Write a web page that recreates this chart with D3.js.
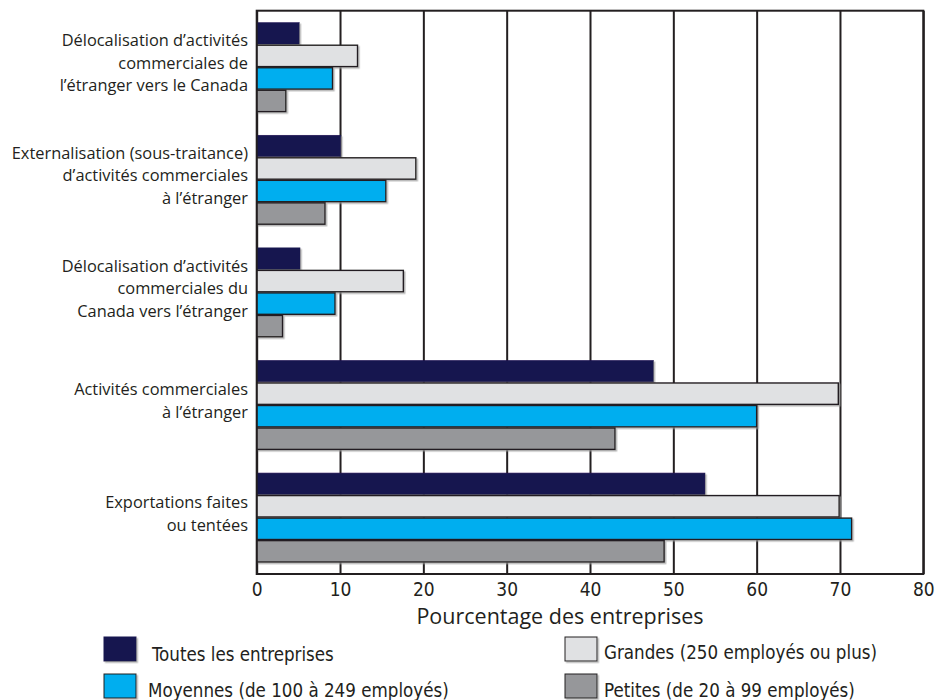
<!DOCTYPE html>
<html>
<head>
<meta charset="utf-8">
<script src="https://cdn.jsdelivr.net/npm/d3@7"></script>
<style>
  html, body { margin: 0; padding: 0; background: #fff; }
  svg { display: block; }
</style>
</head>
<body>
<svg id="chart" width="936" height="700"></svg>
<script>
// ---- Data ----
const categories = [
  "Délocalisation d’activités\ncommerciales de\nl’étranger vers le Canada",
  "Externalisation (sous-traitance)\nd’activités commerciales\nà l’étranger",
  "Délocalisation d’activités\ncommerciales du\nCanada vers l’étranger",
  "Activités commerciales\nà l’étranger",
  "Exportations faites\nou tentées"
];
const seriesNames = [
  "Toutes les entreprises",
  "Grandes (250 employés ou plus)",
  "Moyennes (de 100 à 249 employés)",
  "Petites (de 20 à 99 employés)"
];
const toutes   = [5.1, 10.1, 5.2, 47.6, 53.8];
const grandes  = [12.1, 19.1, 17.6, 69.8, 69.9];
const moyennes = [9.1, 15.5, 9.4, 60.0, 71.4];
const petites  = [3.5, 8.2, 3.1, 43.0, 48.9];
const tickValues = [0, 10, 20, 30, 40, 50, 60, 70, 80];
const axisTitle = "Pourcentage des entreprises";

const seriesValues = [toutes, grandes, moyennes, petites];
const colors = ["#191450", "#e0e1e3", "#00aeef", "#96979a"];
const strokes = ["#191450", "#231f20", "#231f20", "#231f20"];

// ---- Layout ----
const svg = d3.select("#chart");
const pLeft = 256.7, pRight = 923.3, pTop = 10.7, pBottom = 574;
const ink = "#231f20";

const defs = svg.append("defs");
const f = defs.append("filter").attr("id", "shadow")
  .attr("x", "-5%").attr("y", "-20%").attr("width", "120%").attr("height", "160%");
f.append("feDropShadow").attr("dx", 1.5).attr("dy", 1.5).attr("stdDeviation", 0.6)
  .attr("flood-color", "#9a9a9a").attr("flood-opacity", 0.7);

const x = d3.scaleLinear().domain([0, 80]).range([pLeft, pRight]);
const y = d3.scaleBand().domain(d3.range(categories.length))
  .range([pTop, pBottom]).paddingInner(0.21).paddingOuter(0.1065);
const yInner = d3.scaleBand().domain(d3.range(seriesNames.length))
  .range([0, y.bandwidth()]).paddingInner(0.05).paddingOuter(0);

// grid lines
const gridAxis = d3.axisBottom(x).tickValues(tickValues).tickSize(-(pBottom - pTop)).tickFormat("");
const grid = svg.append("g").attr("transform", `translate(0,${pBottom})`).call(gridAxis);
grid.select(".domain").remove();
grid.selectAll("line").attr("stroke", ink).attr("stroke-width", 2);

// bars
const groups = svg.append("g").selectAll("g").data(categories).join("g")
  .attr("transform", (d, i) => `translate(0,${y(i)})`);
groups.each(function (c, ci) {
  d3.select(this).selectAll("rect")
    .data(seriesValues.map((arr, si) => ({ si, v: arr[ci] })))
    .join("rect")
    .attr("x", x(0))
    .attr("y", d => yInner(d.si))
    .attr("width", d => x(d.v) - x(0))
    .attr("height", yInner.bandwidth())
    .attr("fill", d => colors[d.si])
    .attr("stroke", d => strokes[d.si])
    .attr("stroke-width", d => d.si === 0 ? 0.6 : 1.4)
    .attr("filter", "url(#shadow)");
});

// frame
svg.append("rect").attr("x", pLeft).attr("y", pTop)
  .attr("width", pRight - pLeft).attr("height", pBottom - pTop)
  .attr("fill", "none").attr("stroke", ink).attr("stroke-width", 2);

// tick labels
const axis = d3.axisBottom(x).tickValues(tickValues).tickSize(0).tickPadding(9);
const ax = svg.append("g").attr("transform", `translate(0,${pBottom})`).call(axis);
ax.select(".domain").remove();
ax.selectAll("text")
  .attr("font-family", "'Liberation Sans Narrow', 'DejaVu Sans Condensed', sans-serif")
  .attr("font-size", 19).attr("fill", ink);

// axis title
svg.append("text").attr("x", (pLeft + pRight) / 2 - 30).attr("y", 624)
  .attr("text-anchor", "middle")
  .attr("font-family", "'Open Sans', sans-serif").attr("font-size", 21.5)
  .attr("fill", ink).text(axisTitle);

// category labels
const labels = svg.append("g");
categories.forEach((c, i) => {
  const lines = c.split("\n");
  const lh = 22.5;
  const cy = y(i) + y.bandwidth() / 2 - 4;
  const t = labels.append("text")
    .attr("text-anchor", "end")
    .attr("font-family", "'Open Sans', sans-serif").attr("font-size", 16.4)
    .attr("fill", ink);
  lines.forEach((ln, li) => {
    t.append("tspan").attr("x", 248)
      .attr("y", cy + (li - (lines.length - 1) / 2) * lh)
      .attr("dy", "0.35em").text(ln);
  });
});

// legend
const legendPos = [[104, 637], [565, 637], [104, 674], [565, 674]];
const textDx = [48, 39, 44, 39];
const textDy = [24, 22, 23, 23];
const leg = svg.append("g");
seriesNames.forEach((n, i) => {
  const [lx, ly] = legendPos[i];
  leg.append("rect").attr("x", lx).attr("y", ly).attr("width", 32).attr("height", 24)
    .attr("fill", colors[i]).attr("stroke", i === 0 ? colors[0] : ink).attr("stroke-width", 1)
    .attr("filter", "url(#shadow)");
  leg.append("text").attr("x", lx + textDx[i]).attr("y", ly + textDy[i])
    .attr("font-family", "'Liberation Sans Narrow', 'DejaVu Sans Condensed', sans-serif")
    .attr("font-size", 18.6).attr("fill", ink).text(n);
});
</script>
</body>
</html>
